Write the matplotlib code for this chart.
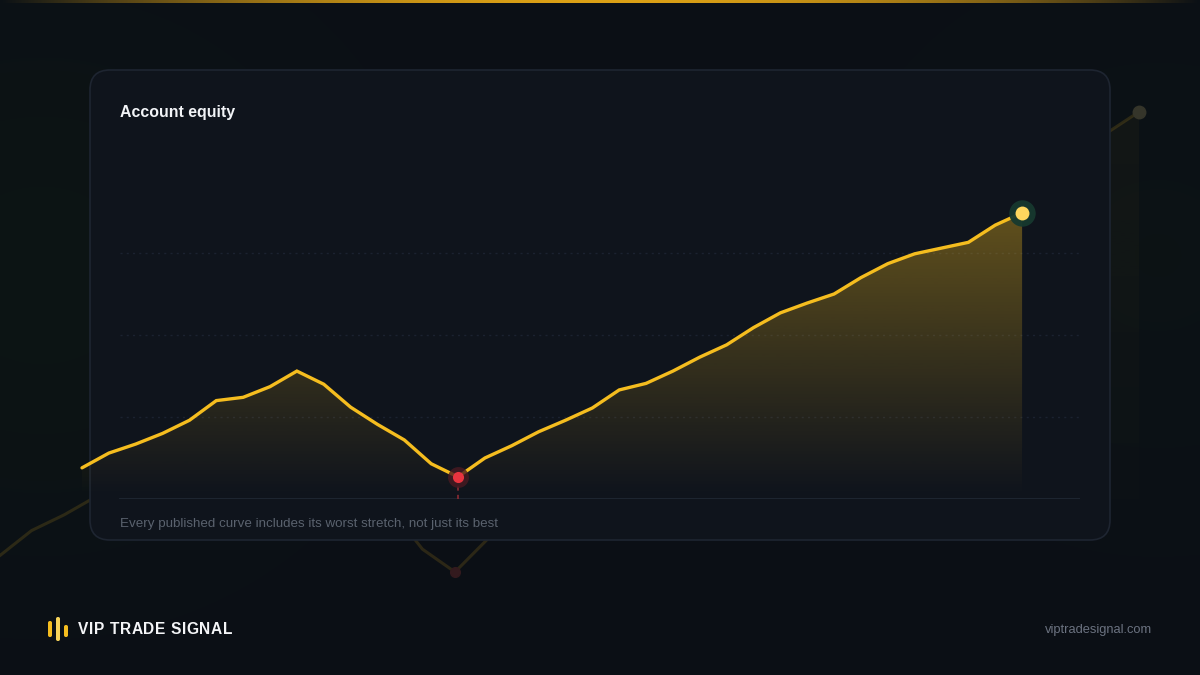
import numpy as np
import matplotlib
matplotlib.use("Agg")
import matplotlib.pyplot as plt
from matplotlib.patches import FancyBboxPatch
from matplotlib.colors import to_rgb

# ---------------- data ----------------
title = "Account equity"
footnote = "Every published curve includes its worst stretch, not just its best"
brand = "VIP TRADE SIGNAL"
url = "viptradesignal.com"

periods = list(range(36))
equity = [3.8, 5.6, 6.7, 8.0, 9.6, 12.0, 12.4, 13.7, 15.6, 14.0, 11.2, 9.1,
          7.2, 4.3, 2.7, 5.0, 6.5, 8.2, 9.6, 11.1, 13.3, 14.1, 15.6, 17.3,
          18.8, 20.9, 22.7, 23.9, 25.0, 27.0, 28.7, 29.9, 30.6, 31.3, 33.4, 34.9]
grid_levels = [10, 20, 30]

# ---------------- style ----------------
BG = "#0b0f16"
CARD = "#0f141c"
CARD_EDGE = "#1e2531"
GOLD = "#f5bd1f"
GOLD_LIGHT = "#ffd75e"
RED = "#e8343f"
W, H = 1200, 675

plt.rcParams["font.family"] = ["Liberation Sans", "DejaVu Sans"]

fig = plt.figure(figsize=(12, 6.75), dpi=100)
fig.patch.set_facecolor(BG)

x = np.array(periods, dtype=float)
y = np.array(equity, dtype=float)
imin = int(np.argmin(y))
iend = len(y) - 1


def gradient_fill(ax, xs, ys, color, amax, power=1.0, z=1):
    poly = ax.fill_between(xs, ys, 0, color="none", lw=0)
    path = poly.get_paths()[0]
    n = 256
    rgb = to_rgb(color)
    arr = np.zeros((n, 1, 4))
    arr[..., 0], arr[..., 1], arr[..., 2] = rgb
    t = np.linspace(0, 1, n)
    arr[:, 0, 3] = amax * t ** power
    im = ax.imshow(arr, extent=[xs.min(), xs.max(), 0, ys.max()], origin="lower",
                   aspect="auto", zorder=z, interpolation="bilinear")
    im.set_clip_path(path, transform=ax.transData)
    return im


# ---------------- background (glow + ghost chart) ----------------
ax_bg = fig.add_axes([0, 0, 1, 1], zorder=0)
ax_bg.set_axis_off()
gx, gy = np.meshgrid(np.linspace(0, W, 300), np.linspace(0, H, 170))
base = np.array(to_rgb(BG))
green = np.array([0.055, 0.095, 0.075])
g1 = np.exp(-(((gx - 40) / 300) ** 2 + ((gy - 400) / 280) ** 2))
g2 = np.exp(-(((gx - 1160) / 300) ** 2 + ((gy - 420) / 280) ** 2))
g = np.clip(0.6 * g1 + 0.35 * g2, 0, 1)[..., None]
glow = base * (1 - g) + green * g

bx0 = (0 + 1) / 32.57
bx1 = (W + 1) / 32.57
by0 = 2.7 - (H - 572) / 14.29
by1 = 2.7 + 572 / 14.29
ax_bg.imshow(glow, extent=[bx0, bx1, by1, by0], aspect="auto", zorder=0,
             interpolation="bilinear")
gradient_fill(ax_bg, x, y, GOLD, 0.035, z=1)
ax_bg.plot(x, y, color=GOLD, alpha=0.14, lw=2.2, zorder=2, solid_capstyle="round")
ax_bg.plot([x[iend]], [y[iend]], "o", ms=9, color="#35352a", zorder=3)
ax_bg.plot([x[imin]], [y[imin]], "o", ms=7, color="#331a1e", zorder=3)
ax_bg.set_xlim(bx0, bx1)
ax_bg.set_ylim(by0, by1)

# ---------------- decoration layer (pixel coords) ----------------
ax_px = fig.add_axes([0, 0, 1, 1], zorder=1)
ax_px.set_xlim(0, W)
ax_px.set_ylim(H, 0)
ax_px.set_axis_off()
ax_px.patch.set_alpha(0)

# top accent line
n = 600
top = np.zeros((1, n, 4))
top[..., :3] = to_rgb("#e8a916")
tt = np.linspace(-1, 1, n)
top[0, :, 3] = np.clip(1.0 - np.abs(tt) ** 2.0, 0, 1) * 0.95
ax_px.imshow(top, extent=[0, W, 3, 0], aspect="auto", zorder=2, interpolation="bilinear")

card = FancyBboxPatch((90, 70), 1020, 470, boxstyle="round,pad=0,rounding_size=20",
                      facecolor=CARD, edgecolor=CARD_EDGE, lw=1.2, zorder=3)
ax_px.add_patch(card)

ax_px.text(120, 113, title, color="#f2f4f7", fontsize=11.4, fontweight="bold",
           ha="left", va="center", zorder=5)
ax_px.text(120, 524, footnote, color="#5a626e", fontsize=9.6,
           ha="left", va="center", zorder=5)

# logo bars
for (bx, by, bh, c) in [(48, 621, 16, GOLD), (56, 617, 24, "#f7d35a"), (64, 625, 12, GOLD)]:
    ax_px.add_patch(FancyBboxPatch((bx, by), 4, bh, boxstyle="round,pad=0,rounding_size=1.8",
                                   facecolor=c, edgecolor="none", zorder=5))
# brand with slight letter spacing
bx_pos = 78.0
renderer = fig.canvas.get_renderer()
for ch in brand:
    t = ax_px.text(bx_pos, 630, ch, color="#f4f5f7", fontsize=11.2, fontweight="bold",
                   ha="left", va="center", zorder=5)
    wpx = t.get_window_extent(renderer=renderer).width
    if ch == " ":
        wpx = 11.2 / 72 * 100 * 0.278
    bx_pos += wpx + 0.6

ax_px.text(1152, 630, url, color="#6b7280", fontsize=9.3,
           ha="right", va="center", zorder=5)

# ---------------- main chart ----------------
left_px, right_px, base_px, top_px = 82, 1080, 499, 130
ax = fig.add_axes([left_px / W, (H - base_px) / H, (right_px - left_px) / W,
                   (base_px - top_px) / H], zorder=2)
ax.patch.set_alpha(0)
for s in ax.spines.values():
    s.set_visible(False)
ax.set_xticks([])
ax.set_yticks([])

xmax = (right_px - left_px) / 26.86
ymax = (base_px - top_px) / 8.2
frac0 = (120 - left_px) / (right_px - left_px)

gradient_fill(ax, x, y, GOLD, 0.36, power=1.05, z=1)
for gl in grid_levels:
    ax.axhline(gl, xmin=frac0, xmax=1, color="#1b2230", lw=1, ls=(0, (1.5, 3)), zorder=0.5)
ax.axhline(0, xmin=frac0, xmax=1, color="#1f2733", lw=1.3, zorder=2)

ax.plot(x, y, color=GOLD, lw=2.4, zorder=4, solid_joinstyle="miter",
        solid_capstyle="round", clip_on=False)

# drawdown marker
ax.plot([x[imin], x[imin]], [0, y[imin]], color="#8a2a33", lw=1.2, ls=(0, (2.5, 2.5)), zorder=3)
ax.plot([x[imin]], [y[imin]], "o", ms=15, color="#4a1a22", alpha=0.8, zorder=5, mec="none")
ax.plot([x[imin]], [y[imin]], "o", ms=8, color=RED, zorder=6, mec="none")

# latest point
ax.plot([x[iend]], [y[iend]], "o", ms=19, color="#17392f", alpha=0.95, zorder=5, mec="none")
ax.plot([x[iend]], [y[iend]], "o", ms=10, color=GOLD_LIGHT, zorder=6, mec="none")

ax.set_xlim(0, xmax)
ax.set_ylim(0, ymax)

fig.savefig("out.png", dpi=100, facecolor=BG)
